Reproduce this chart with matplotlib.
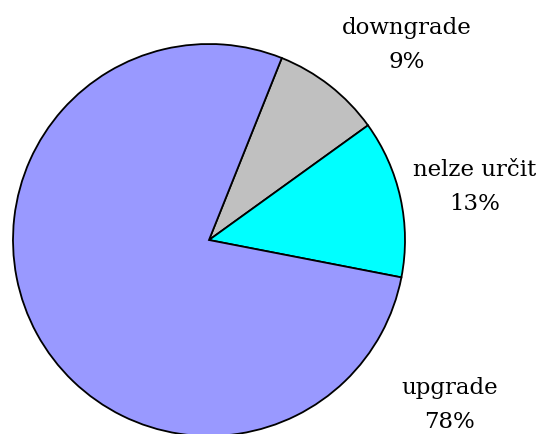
import matplotlib
matplotlib.use("Agg")
import matplotlib.pyplot as plt

categories = ["downgrade", "nelze určit", "upgrade"]
values = [9, 13, 78]
colors = ["#C0C0C0", "#00FFFF", "#9999FF"]

W, H = 543, 435
cx, cy, r = 209, 241, 196

fig = plt.figure(figsize=(W / 100, H / 100), dpi=100)
ax = fig.add_axes([0, 0, 1, 1])
ax.pie(values, colors=colors, startangle=68.2, counterclock=False,
       wedgeprops=dict(edgecolor="black", linewidth=1.3))
ax.set_xlim(-cx / r, (W - cx) / r)
ax.set_ylim(-(H - cy) / r, cy / r)
ax.set_aspect("equal")
ax.axis("off")

label_px = [(407, 45), (475, 187), (450, 405)]
for name, v, (px, py) in zip(categories, values, label_px):
    ax.text((px - cx) / r, (cy - py) / r, f"{name}\n{v}%", ha="center", va="center",
            fontsize=16.5, family="DejaVu Serif", linespacing=1.75)

fig.savefig("out.png", dpi=100)
